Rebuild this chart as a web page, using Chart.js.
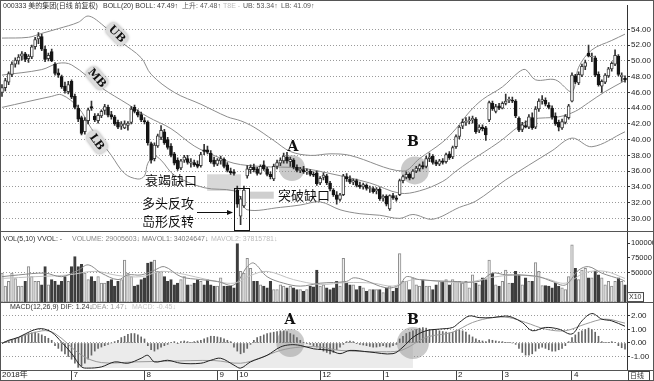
<!DOCTYPE html>
<html lang="zh-CN">
<head>
<meta charset="UTF-8">
<title>000333 美的集团 日线 BOLL</title>
<script src="https://cdn.jsdelivr.net/npm/chart.js"></script>
<style>
  body { margin: 0; background: #fff; }
  #wrap { width: 654px; height: 381px; }
</style>
</head>
<body>
<div id="wrap"><canvas id="kline" width="654" height="381"></canvas></div>
<script>
// daily candles (one entry per trading day)
const opens = [
  46.0, 46.6, 47.3, 48.3, 49.6, 50.0, 50.6, 50.9, 50.3, 50.5,
  51.8, 52.8, 53.1, 51.5, 50.3, 51.2, 49.6, 48.5, 48.0, 46.8,
  46.1, 47.4, 45.5, 44.0, 42.8, 41.0, 42.4, 44.2, 43.0, 42.4,
  43.0, 43.7, 44.1, 43.2, 42.9, 42.2, 41.7, 41.5, 41.8, 42.2,
  44.1, 43.5, 43.2, 42.4, 42.2, 39.5, 37.6, 39.2, 40.3, 41.0,
  40.0, 39.2, 38.2, 37.4, 36.4, 37.4, 37.6, 37.0, 37.1, 36.9,
  36.7, 38.7, 38.7, 38.3, 37.4, 36.9, 37.3, 37.5, 36.8, 36.0,
  35.9, 33.6, 30.3, 31.6, 35.4, 36.2, 36.5, 36.3, 35.7, 36.8,
  36.3, 35.6, 35.0, 36.6, 37.0, 37.3, 37.8, 37.2, 37.4, 36.5,
  36.1, 36.2, 35.9, 36.0, 35.6, 35.8, 34.5, 35.2, 35.4, 34.5,
  33.6, 33.0, 32.4, 33.0, 35.3, 35.0, 34.6, 34.8, 34.2, 34.0,
  34.2, 33.8, 33.8, 33.5, 33.7, 32.6, 32.8, 31.2, 32.9, 32.6,
  33.0, 34.8, 35.2, 35.6, 35.1, 36.0, 36.3, 36.7, 36.6, 37.6,
  37.9, 37.2, 36.9, 37.3, 37.2, 38.2, 37.8, 39.1, 40.4, 41.7,
  42.2, 42.4, 42.5, 42.6, 41.2, 41.6, 41.5, 42.5, 44.6, 43.6,
  44.3, 44.0, 44.6, 45.0, 45.0, 44.9, 42.7, 41.3, 41.8, 41.6,
  42.8, 41.6, 43.9, 44.9, 45.0, 44.4, 44.0, 43.0, 42.2, 41.5,
  42.2, 42.8, 44.9, 48.1, 47.2, 48.2, 49.3, 51.0, 50.5, 50.4,
  48.3, 46.8, 47.3, 48.1, 49.0, 49.6, 50.6, 48.0, 47.8
];
const highs = [
  47.0, 47.8, 48.6, 49.9, 50.4, 50.8, 51.2, 51.1, 50.8, 52.0,
  53.0, 53.6, 53.4, 51.9, 51.0, 51.5, 49.8, 49.0, 48.2, 47.3,
  47.4, 47.6, 45.8, 44.4, 43.0, 42.8, 44.0, 44.9, 43.3, 43.3,
  43.8, 44.5, 44.4, 43.6, 43.1, 42.5, 42.3, 42.4, 42.3, 44.2,
  44.4, 43.8, 43.5, 42.8, 42.4, 39.7, 39.6, 40.7, 41.8, 41.3,
  40.3, 39.5, 38.4, 37.7, 37.5, 38.0, 38.0, 37.6, 37.4, 37.3,
  38.4, 39.4, 39.2, 38.6, 37.8, 37.6, 37.9, 37.7, 37.1, 36.4,
  36.2, 34.1, 32.8, 34.1, 36.7, 36.8, 36.9, 36.5, 36.8, 37.3,
  36.5, 35.9, 36.9, 37.4, 37.7, 38.3, 38.4, 37.8, 37.6, 36.8,
  36.5, 36.6, 36.3, 36.2, 35.9, 36.0, 35.3, 35.8, 35.6, 34.7,
  33.8, 33.4, 33.2, 35.6, 35.7, 35.4, 35.0, 35.0, 34.6, 34.5,
  34.4, 34.1, 34.0, 33.9, 33.9, 33.0, 33.0, 33.0, 33.2, 32.9,
  35.0, 35.5, 35.9, 35.8, 36.2, 36.6, 36.9, 37.2, 37.9, 38.3,
  38.1, 37.4, 37.5, 37.6, 38.3, 38.5, 39.2, 40.6, 41.8, 42.6,
  42.8, 42.9, 43.0, 42.8, 41.9, 41.9, 41.7, 44.9, 44.9, 44.5,
  44.6, 44.8, 45.8, 45.4, 45.4, 45.1, 42.9, 42.2, 42.4, 43.2,
  43.4, 44.2, 45.2, 45.6, 45.3, 44.7, 44.3, 43.4, 42.5, 42.6,
  43.2, 44.5, 48.5, 48.3, 48.6, 49.6, 50.1, 52.0, 51.0, 50.6,
  48.6, 47.6, 48.4, 49.2, 49.9, 51.4, 50.8, 48.5, 48.1
];
const lows = [
  45.5, 46.2, 47.0, 48.0, 49.2, 49.6, 50.1, 49.9, 49.8, 50.3,
  51.5, 52.2, 51.3, 49.9, 50.0, 49.9, 48.2, 47.9, 46.5, 45.9,
  45.8, 45.2, 43.9, 42.3, 40.6, 40.7, 42.0, 43.7, 42.3, 42.1,
  42.8, 43.2, 42.9, 42.6, 41.8, 41.4, 41.3, 41.4, 41.2, 42.0,
  43.4, 42.9, 42.3, 42.0, 39.3, 37.0, 37.3, 39.0, 40.0, 39.4,
  38.8, 37.8, 36.8, 36.1, 36.2, 37.1, 36.9, 36.5, 36.6, 36.4,
  36.5, 38.1, 38.2, 37.0, 36.6, 36.7, 36.9, 36.4, 35.9, 35.6,
  35.5, 31.4, 29.2, 31.4, 35.1, 35.7, 35.9, 35.5, 35.6, 36.1,
  35.4, 35.0, 34.8, 36.3, 36.7, 37.0, 37.0, 36.6, 36.3, 35.9,
  35.8, 35.7, 35.6, 35.4, 35.3, 34.2, 34.3, 34.9, 34.3, 33.5,
  32.8, 31.8, 32.2, 32.9, 34.7, 34.4, 34.3, 34.0, 33.8, 33.7,
  33.6, 33.3, 33.2, 33.1, 32.3, 32.2, 31.6, 31.0, 32.4, 32.2,
  32.9, 34.5, 35.0, 34.9, 35.0, 35.8, 36.0, 36.3, 36.4, 37.2,
  36.9, 36.7, 36.7, 36.9, 37.0, 37.5, 37.6, 38.9, 40.1, 41.4,
  41.8, 42.0, 42.1, 40.8, 40.9, 41.1, 39.9, 42.3, 43.7, 43.4,
  43.8, 43.9, 44.4, 44.7, 44.7, 42.8, 41.0, 41.0, 41.5, 41.4,
  41.3, 41.4, 43.6, 44.5, 44.3, 43.9, 42.6, 41.8, 41.1, 41.3,
  42.0, 42.6, 44.8, 47.1, 47.0, 48.0, 48.9, 50.5, 49.9, 48.0,
  46.8, 46.0, 47.1, 47.9, 48.7, 49.4, 48.1, 47.4, 47.3
];
const closes = [
  46.6, 47.5, 48.4, 49.6, 50.1, 50.5, 50.9, 50.2, 50.6, 51.8,
  52.7, 53.2, 51.5, 50.2, 50.7, 50.0, 48.4, 48.2, 46.7, 46.2,
  47.0, 45.4, 44.1, 42.6, 40.8, 42.5, 43.8, 44.0, 42.5, 43.1,
  43.6, 44.2, 43.1, 42.9, 42.0, 41.6, 42.0, 42.0, 42.1, 43.9,
  43.6, 43.1, 42.5, 42.3, 39.6, 37.4, 39.3, 40.5, 41.2, 39.6,
  39.0, 38.0, 37.0, 36.3, 37.3, 37.8, 37.1, 37.2, 36.8, 36.6,
  38.1, 38.5, 38.4, 37.2, 36.9, 37.4, 37.6, 36.6, 36.1, 35.8,
  35.7, 31.8, 32.5, 33.6, 36.3, 36.5, 36.2, 35.7, 36.6, 36.3,
  35.6, 35.3, 36.6, 37.1, 37.4, 37.9, 37.3, 37.5, 36.5, 36.1,
  36.2, 35.9, 36.0, 35.6, 35.5, 34.4, 35.1, 35.5, 34.5, 33.7,
  33.0, 32.4, 33.0, 35.4, 35.0, 34.6, 34.8, 34.2, 34.0, 34.3,
  33.8, 33.9, 33.4, 33.7, 32.5, 32.8, 31.8, 32.9, 32.6, 32.4,
  34.8, 35.3, 35.6, 35.1, 36.0, 36.4, 36.7, 36.5, 37.6, 37.8,
  37.1, 36.9, 37.3, 37.1, 38.1, 37.7, 39.0, 40.4, 41.6, 42.2,
  42.3, 42.4, 42.7, 41.0, 41.6, 41.4, 40.6, 44.7, 43.9, 44.2,
  44.0, 44.6, 44.9, 45.1, 44.9, 43.0, 41.2, 41.9, 41.6, 42.9,
  41.5, 43.9, 44.9, 45.1, 44.5, 44.1, 42.9, 42.0, 41.6, 42.3,
  43.0, 44.3, 48.2, 47.3, 48.3, 49.3, 49.8, 50.6, 50.6, 48.2,
  47.0, 47.4, 48.2, 49.0, 49.7, 50.7, 48.3, 48.2, 47.6
];
const volumes = [
  49000, 27000, 35000, 49000, 40000, 27000, 27000, 35000, 60000, 43000,
  35000, 35000, 29000, 60000, 29000, 38000, 35000, 29000, 35000, 43000,
  35000, 60000, 77000, 60000, 64000, 49000, 38000, 43000, 35000, 43000,
  32000, 32000, 35000, 38000, 27000, 35000, 38000, 71000, 49000, 43000,
  27000, 29000, 38000, 41000, 66000, 68000, 71000, 52000, 52000, 43000,
  35000, 38000, 29000, 32000, 38000, 43000, 29000, 29000, 32000, 38000,
  35000, 29000, 38000, 29000, 27000, 27000, 41000, 27000, 27000, 27000,
  24000, 99000, 52000, 49000, 74000, 57000, 35000, 35000, 29000, 27000,
  24000, 35000, 21000, 21000, 29000, 27000, 24000, 27000, 24000, 21000,
  21000, 18000, 21000, 27000, 26000, 54000, 27000, 29000, 24000, 21000,
  24000, 35000, 27000, 74000, 32000, 29000, 29000, 21000, 27000, 24000,
  18000, 21000, 21000, 21000, 21000, 16000, 24000, 27000, 18000, 24000,
  82000, 35000, 35000, 21000, 41000, 29000, 27000, 38000, 27000, 27000,
  21000, 29000, 35000, 35000, 38000, 29000, 38000, 35000, 35000, 32000,
  35000, 24000, 46000, 32000, 29000, 41000, 38000, 71000, 49000, 29000,
  27000, 35000, 54000, 32000, 32000, 52000, 46000, 29000, 41000, 35000,
  35000, 67000, 52000, 28000, 28000, 27000, 24000, 32000, 27000, 24000,
  21000, 43000, 97000, 57000, 38000, 54000, 57000, 41000, 41000, 52000,
  46000, 41000, 29000, 35000, 27000, 35000, 41000, 35000, 29000
];
const macdBars = [
  0.05, 0.1, 0.15,
  0.2, 0.3, 0.4, 0.5, 0.6, 0.7, 0.75, 0.8, 0.7, 0.6, 0.5, 0.35, 0.2,
  -0.2, -0.4, -0.6, -0.8, -1.0, -1.2, -1.5, -1.8, -1.7, -1.5, -1.2, -0.9, -0.6, -0.4,
  -0.3, -0.2, -0.1, 0.0, 0.1, 0.2,
  0.4, 0.5, 0.65, 0.7, 0.7, 0.6, 0.45, 0.3,
  -0.2, -0.5, -0.6, -0.45, -0.3, -0.2, -0.1,
  0.05, 0.1, -0.05, 0.1, 0.15, 0.1, 0.05, 0.1, 0.15, 0.2, 0.3,
  0.4, 0.5, 0.5, 0.45, 0.4, 0.3, 0.2, 0.1,
  -0.3, -0.6, -0.8, -0.7, -0.4, -0.1,
  0.2, 0.4, 0.5, 0.6, 0.7, 0.75, 0.8, 0.85, 0.9, 0.9, 0.85, 0.7, 0.6, 0.4, 0.2,
  0.05, -0.05, -0.1, -0.2, -0.3,
  -0.5, -0.6, -0.7, -0.8, -0.7, -0.5, -0.3, -0.1, 0.1, 0.15, 0.1,
  -0.05, -0.1, -0.15, -0.2, -0.25, -0.3, -0.3, -0.25, -0.2, -0.3, -0.3, -0.2, -0.1,
  0.3, 0.5, 0.7, 0.8, 0.9, 1.0, 1.1, 1.15, 1.1, 1.0,
  1.0, 0.95, 0.9, 0.85, 0.8, 0.75, 0.8, 0.9, 0.95, 0.9, 0.8, 0.6, 0.45, 0.3,
  0.2, 0.15, 0.1, 0.25, 0.2, 0.15, 0.1, 0.1, 0.05, 0.05, 0.0, -0.1,
  -0.4, -0.7, -0.9, -0.9, -0.8, -0.6, -0.4, -0.3, -0.4,
  -0.5, -0.6, -0.6, -0.5, -0.4, -0.2, 0.1,
  0.4, 0.6, 0.8, 0.9, 1.0, 1.1, 1.0, 0.8, 0.5,
  0.1, 0.05, 0.05, 0.1, 0.05, -0.2, -0.35, -0.45
];

// indicator lines, sampled along the curves as [day, value]
const ubPts = [[0,52.9],[8,53.0],[12,53.5],[17,54.1],[23,54.9],[26,55.7],[30,54.7],[36,52.4],[42,50.4],[45,48.3],
  [52,46.0],[60,44.5],[68,42.9],[72,42.4],[76,41.6],[82,39.9],[87,38.5],[93,38.0],[99,38.2],[105,38.0],
  [121,36.0],[126,37.6],[133,39.7],[137,41.4],[141,43.5],[145,45.1],[151,46.7],[156,48.6],[158,48.9],[161,47.6],
  [167,47.6],[172,46.1],[174,49.2],[178,51.4],[184,52.6],[188,53.4]];
const mbPts = [[0,48.2],[12,48.9],[17,49.7],[21,49.5],[30,46.6],[38,44.5],[44,42.9],[51,41.4],[58,39.2],[64,38.0],
  [70,37.0],[78,36.6],[90,36.4],[99,35.7],[111,34.5],[120,33.2],[126,33.5],[133,34.7],[137,36.0],[141,37.2],
  [150,39.7],[156,41.7],[160,42.6],[168,42.9],[173,43.6],[177,44.7],[182,46.1],[188,47.5]];
const lbPts = [[0,44.1],[15,45.5],[18,45.7],[23,44.1],[27,41.4],[33,38.0],[37,35.7],[41,35.0],[43,35.4],[44,37.0],
  [46,37.9],[48,37.4],[52,35.5],[61,33.9],[70,33.5],[72,32.6],[74,31.1],[84,31.4],[90,31.7],[96,32.1],
  [102,31.1],[108,30.6],[114,30.4],[120,30.0],[124,30.5],[130,29.9],[138,31.4],[143,32.2],[152,34.9],[166,38.6],
  [172,40.2],[178,39.1],[188,41.0]];
const maVol1Pts = [[0,43000],[5,46000],[13,49000],[18,43000],[23,54000],[26,63000],[30,49000],[35,38000],[38,46000],[42,46000],
  [46,54000],[49,60000],[54,43000],[60,38000],[65,35000],[70,29000],[74,60000],[76,66000],[80,43000],[85,32000],
  [90,27000],[96,32000],[104,35000],[106,41000],[109,38000],[116,24000],[120,29000],[122,43000],[126,38000],[136,35000],
  [144,35000],[148,49000],[152,46000],[156,46000],[162,43000],[166,35000],[170,29000],[174,54000],[177,60000],[181,49000],
  [187,38000],[188,35000]];
const maVol2Pts = [[0,40000],[10,43000],[20,46000],[28,52000],[35,45000],[42,43000],[48,52000],[55,47000],[62,38000],[70,32000],
  [75,45000],[80,52000],[88,38000],[96,30000],[104,33000],[112,32000],[118,27000],[124,38000],[132,35000],[140,33000],
  [148,42000],[156,46000],[164,40000],[170,32000],[176,50000],[182,52000],[188,40000]];
const difPts = [[0,-0.04],[2,0.2],[5,0.42],[9,0.91],[12,1.06],[15,0.79],[18,0.06],[21,-0.77],[24,-1.77],[26,-1.86],
  [30,-1.77],[34,-1.4],[38,-1.5],[42,-1.13],[44,-0.91],[46,-1.4],[50,-1.28],[54,-1.5],[60,-1.5],[63,-1.28],
  [66,-1.13],[70,-1.64],[72,-1.86],[75,-1.4],[80,-0.91],[84,-0.3],[87,-0.13],[90,-0.18],[94,-0.43],[99,-0.55],
  [102,-0.79],[105,-0.55],[111,-0.67],[118,-0.79],[121,-0.3],[124,0.42],[128,0.91],[132,1.03],[136,1.15],[138,1.52],
  [141,2.0],[144,1.88],[148,1.88],[152,2.0],[154,1.9],[157,1.52],[160,0.91],[164,1.15],[168,1.03],[172,0.67],
  [175,1.64],[178,2.18],[181,1.77],[184,1.64],[188,1.24]];
const deaPts = [[0,0],[12,0.9],[16,0.7],[24,-0.9],[30,-1.45],[40,-1.4],[50,-1.35],[64,-1.3],[72,-1.5],[78,-1.1],
  [84,-0.55],[90,-0.3],[96,-0.3],[102,-0.55],[116,-0.65],[121,-0.5],[128,0.42],[136,0.8],[142,1.52],[148,1.88],
  [153,1.88],[158,1.52],[164,1.03],[170,0.91],[176,1.4],[182,1.77],[188,1.47]];

// axis ticks
const monthPos = [-0.6, 21, 43, 65, 71, 96, 115, 137, 151, 172];
const monthLabels = ['2018年', '7', '8', '9', '10', '12', '1', '2', '3', '4'];
const priceTicks = [30, 32, 34, 36, 38, 40, 42, 44, 46, 48, 50, 52, 54];
const volTicks = [50000, 75000, 100000];
const macdTicks = [-1, 0, 1, 2];

const FONT = '"Liberation Sans", "Noto Sans CJK SC", sans-serif';
Chart.defaults.font.family = FONT;
Chart.defaults.font.size = 8;
Chart.defaults.color = '#222';

const days = closes.map((c, i) => i);
const up = days.map(i => closes[i] >= opens[i]);
const pts = arr => arr.map(([i, v]) => ({ x: i, y: v }));

function rightAxis(weight, min, max, tickList, fmt, gridColor, size) {
  return {
    type: 'linear', axis: 'y', position: 'right', stack: 'panes', stackWeight: weight,
    min: min, max: max,
    afterBuildTicks: s => { s.ticks = tickList.map(v => ({ value: v })); },
    afterFit: s => { s.width = 27; },
    ticks: { callback: fmt, padding: 1, autoSkip: false, font: { size: size || 8 } },
    grid: { color: gridColor, tickColor: '#333', tickLength: 3 },
    border: { color: '#333', dash: [1, 2] }
  };
}

const overlay = {
  id: 'overlay',
  beforeDatasetsDraw(chart) {
    const { ctx, scales: { x, y, macd } } = chart;
    const px = v => x.getPixelForValue(v);
    ctx.save();
    // light band under the zero line in the MACD pane
    ctx.fillStyle = '#ebebeb';
    ctx.fillRect(px(22.6), macd.getPixelForValue(0), px(124) - px(22.6), macd.getPixelForValue(-1.85) - macd.getPixelForValue(0));
    // gap markers
    ctx.fillStyle = '#d8d8d8';
    ctx.fillRect(px(61.9), y.getPixelForValue(35.6), px(72.1) - px(61.9), y.getPixelForValue(33.5) - y.getPixelForValue(35.6));
    ctx.fillStyle = '#cfcfcf';
    ctx.fillRect(px(74.6), y.getPixelForValue(33.4), px(82) - px(74.6), y.getPixelForValue(32.5) - y.getPixelForValue(33.4));
    // A / B circles
    ctx.fillStyle = 'rgba(150,150,150,0.5)';
    [[87.5, y, 36.4, 13], [124.6, y, 36.1, 14], [87, macd, 0, 14], [124, macd, 0, 16]].forEach(([i, sc, v, r]) => {
      ctx.beginPath();
      ctx.arc(px(i), sc.getPixelForValue(v), r, 0, Math.PI * 2);
      ctx.fill();
    });
    ctx.restore();
  },
  afterDatasetsDraw(chart) {
    const { ctx, scales: { x, y } } = chart;
    const px = v => x.getPixelForValue(v);
    ctx.save();
    // island box
    ctx.strokeStyle = '#111';
    ctx.lineWidth = 1;
    const bx0 = Math.round(px(70)) + 0.5, bx1 = Math.round(px(74.5)) + 0.5;
    const by0 = Math.round(y.getPixelForValue(33.9)) + 0.5, by1 = Math.round(y.getPixelForValue(28.5)) + 0.5;
    ctx.strokeRect(bx0, by0, bx1 - bx0, by1 - by0);

    // Chinese notes
    ctx.fillStyle = '#111';
    ctx.font = '13px "Noto Sans CJK SC"';
    ctx.textBaseline = 'top';
    ctx.fillText('衰竭缺口', 145, 174);
    ctx.fillText('多头反攻', 142, 197);
    ctx.fillText('岛形反转', 142, 215);
    ctx.fillText('突破缺口', 278, 189);

    // arrow to the island
    ctx.beginPath();
    ctx.moveTo(197, 212.5);
    ctx.lineTo(229, 212.5);
    ctx.stroke();
    ctx.beginPath();
    ctx.moveTo(233, 212.5);
    ctx.lineTo(227, 210);
    ctx.lineTo(227, 215);
    ctx.closePath();
    ctx.fill();

    // A / B letters
    ctx.font = 'bold 14px "DejaVu Serif"';
    ctx.textAlign = 'center';
    ctx.textBaseline = 'middle';
    ctx.fillText('A', 293, 147);
    ctx.fillText('B', 413, 142);
    ctx.fillText('A', 290, 320);
    ctx.fillText('B', 413, 320);

    // band tags
    const tag = (txt, cx, cy, ang) => {
      ctx.save();
      ctx.translate(cx, cy);
      ctx.rotate(ang);
      ctx.shadowColor = 'rgba(0,0,0,0.35)';
      ctx.shadowBlur = 3;
      ctx.fillStyle = '#dcdcdc';
      ctx.beginPath();
      if (ctx.roundRect) ctx.roundRect(-12, -7, 24, 14, 5); else ctx.rect(-12, -7, 24, 14);
      ctx.fill();
      ctx.shadowBlur = 0;
      ctx.shadowColor = 'transparent';
      ctx.fillStyle = '#111';
      ctx.font = 'bold 11px "DejaVu Serif"';
      ctx.fillText(txt, 0, 0.5);
      ctx.restore();
    };
    tag('UB', 117, 34, 0.8);
    tag('MB', 97, 78, 0.85);
    tag('LB', 97, 142, 0.95);
    ctx.restore();
  },
  afterDraw(chart) {
    const { ctx, scales: { vol, macd }, width, height } = chart;
    ctx.save();
    ctx.strokeStyle = '#555';
    ctx.lineWidth = 1;
    // pane separators and frame
    [vol.top, macd.top, chart.chartArea.bottom].forEach(v => {
      const yy = Math.round(v) + 0.5;
      ctx.beginPath(); ctx.moveTo(0, yy); ctx.lineTo(width, yy); ctx.stroke();
    });
    ctx.strokeRect(0.5, 0.5, width - 1, height - 1);

    // headers
    ctx.font = '7px ' + FONT;
    ctx.textBaseline = 'middle';
    const put = (txt, x0, y0, col) => { ctx.fillStyle = col; ctx.fillText(txt, x0, y0); };
    put('000333 美的集团(日线 前复权)', 3, 6, '#333');
    put('BOLL(20) BOLL: 47.49↑', 103, 6, '#333');
    put('上升: 47.48↑', 182, 6, '#555');
    put('T8E -', 223, 6, '#bbb');
    put('UB: 53.34↑', 243, 6, '#555');
    put('LB: 41.09↑', 281, 6, '#555');

    const vy = vol.top + 8;
    put('VOL(5,10) VVOL: -', 3, vy, '#333');
    put('VOLUME: 29005603↓', 72, vy, '#888');
    put('MAVOL1: 34024647↓', 142, vy, '#777');
    put('MAVOL2: 37815781↓', 211, vy, '#bbb');

    const my = macd.top + 5;
    put('MACD(12,26,9) DIF: 1.24↓', 10, my, '#333');
    put('DEA: 1.47↓', 92, my, '#999');
    put('MACD: -0.45↓', 132, my, '#c4c4c4');

    // small boxes on the right
    ctx.strokeStyle = '#444';
    ctx.strokeRect(627.5, macd.top - 9.5, 16, 9);
    put('X10', 629, macd.top - 5, '#333');
    ctx.strokeRect(628.5, chart.chartArea.bottom + 1.5, 21, 9);
    put('日线', 630, chart.chartArea.bottom + 6, '#333');
    ctx.restore();
  }
};

new Chart(document.getElementById('kline'), {
  type: 'bar',
  data: {
    datasets: [
      {
        label: 'wick', yAxisID: 'y', grouped: false, order: 2,
        data: days.map(i => ({ x: i, y: [lows[i], highs[i]] })),
        backgroundColor: '#333', barThickness: 1
      },
      {
        label: 'body', yAxisID: 'y', grouped: false, order: 1,
        data: days.map(i => ({ x: i, y: [opens[i], closes[i]] })),
        backgroundColor: days.map(i => up[i] ? '#ffffff' : '#151515'),
        borderColor: days.map(i => up[i] ? '#3c3c3c' : '#151515'),
        borderWidth: 1, borderSkipped: false, barThickness: 3, minBarLength: 1
      },
      { type: 'line', label: 'UB', yAxisID: 'y', order: 3, data: pts(ubPts), borderColor: '#8c8c8c', borderWidth: 1, pointRadius: 0, tension: 0.35 },
      { type: 'line', label: 'MB', yAxisID: 'y', order: 3, data: pts(mbPts), borderColor: '#8c8c8c', borderWidth: 1, pointRadius: 0, tension: 0.35 },
      { type: 'line', label: 'LB', yAxisID: 'y', order: 3, data: pts(lbPts), borderColor: '#8c8c8c', borderWidth: 1, pointRadius: 0, tension: 0.35 },
      {
        label: 'VOLUME', yAxisID: 'vol', grouped: false, order: 2,
        data: days.map(i => ({ x: i, y: volumes[i] })),
        backgroundColor: days.map(i => up[i] ? '#f3f3f3' : '#3d3d3d'),
        borderColor: days.map(i => up[i] ? '#8a8a8a' : '#3d3d3d'),
        borderWidth: 1, borderSkipped: false, barThickness: 2.6
      },
      { type: 'line', label: 'MAVOL1', yAxisID: 'vol', order: 1, data: pts(maVol1Pts), borderColor: '#8a8a8a', borderWidth: 1, pointRadius: 0, tension: 0.35 },
      { type: 'line', label: 'MAVOL2', yAxisID: 'vol', order: 1, data: pts(maVol2Pts), borderColor: '#c2c2c2', borderWidth: 1, pointRadius: 0, tension: 0.35 },
      {
        label: 'MACD', yAxisID: 'macd', grouped: false, order: 2,
        data: days.map(i => ({ x: i, y: macdBars[i] })),
        backgroundColor: '#666', barThickness: 1
      },
      { type: 'line', label: 'DIF', yAxisID: 'macd', order: 1, data: pts(difPts), borderColor: '#222', borderWidth: 1, pointRadius: 0, tension: 0.35 },
      { type: 'line', label: 'DEA', yAxisID: 'macd', order: 1, data: pts(deaPts), borderColor: '#9a9a9a', borderWidth: 1, pointRadius: 0, tension: 0.35 }
    ]
  },
  options: {
    responsive: false,
    devicePixelRatio: 1,
    animation: false,
    layout: { padding: 0 },
    plugins: { legend: { display: false }, tooltip: { enabled: false } },
    scales: {
      x: {
        type: 'linear', position: 'bottom', min: -0.6, max: 188.6, offset: false,
        afterBuildTicks: s => { s.ticks = monthPos.map(v => ({ value: v })); },
        afterFit: s => { s.height = 11; },
        ticks: { autoSkip: false, maxRotation: 0, align: 'start', labelOffset: 2, padding: -10,
                 font: { size: 8 }, callback: (v, i) => monthLabels[i] },
        grid: { drawOnChartArea: false, offset: false, tickLength: 10, color: '#444' },
        border: { color: '#444' }
      },
      y: rightAxis(229, 28.375, 57, priceTicks, v => v.toFixed(2), '#9a9a9a'),
      vol: rightAxis(72, 0, 120000, volTicks, v => String(v),
             c => (c.tick && c.tick.value === 50000) ? '#9a9a9a' : 'rgba(0,0,0,0)', 7.5),
      macd: rightAxis(69, -2.0, 3.03, macdTicks, v => v.toFixed(2), '#9a9a9a')
    }
  },
  plugins: [overlay]
});
</script>
</body>
</html>
